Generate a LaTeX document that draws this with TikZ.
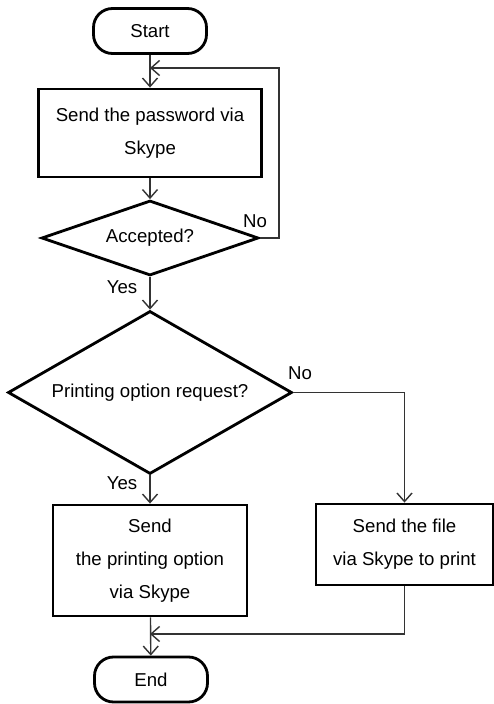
\documentclass[tikz,border=0pt]{standalone}
\usepackage{fontspec}
\setmainfont{Liberation Sans}
\usetikzlibrary{shapes.geometric,arrows.meta}
\tikzset{
  terminal/.style={draw, line width=1.6pt, rounded corners=0.38cm, minimum width=2.26cm, minimum height=0.9cm},
  process/.style={draw, line width=1.6pt, align=center, inner sep=0pt},
  decision/.style={draw, diamond, line width=1.6pt, inner sep=0pt, aspect=2},
  conn/.style={line width=0.8pt, black!80, -{Straight Barb[length=1.7mm,width=3mm]}},
  lbl/.style={inner sep=0pt},
}
\begin{document}
\begin{tikzpicture}[font=\fontsize{10.6}{18.8}\selectfont]
\useasboundingbox[fill=white] (0,0) rectangle (9.88,14.08);
\node[terminal] (start) at (3.000, 13.460) {Start};
\node[process, minimum width=4.46cm, minimum height=1.76cm] (pass) at (3.000, 11.420) {Send the password via\\Skype};
\node[decision, minimum width=4.34cm, minimum height=1.50cm] (acc) at (3.000, 9.320) {Accepted?};
\node[decision, minimum width=5.68cm, minimum height=3.26cm] (req) at (3.000, 6.230) {Printing option request?};
\node[process, minimum width=3.88cm, minimum height=2.22cm] (opt) at (3.000, 2.870) {Send\\the printing option\\via Skype};
\node[process, minimum width=3.54cm, minimum height=1.62cm] (file) at (8.090, 3.190) {Send the file\\via Skype to print};
\node[terminal] (end) at (3.020, 0.490) {End};
\coordinate (loopA) at (5.580, 12.720);
\coordinate (loopB) at (3.000, 12.720);
\coordinate (join) at (3.000, 1.400);
\draw[conn] (start) -- (pass);
\draw[conn] (pass) -- (acc);
\draw[conn] (acc) -- (req);
\draw[conn] (req) -- (opt);
\draw[conn] (opt) -- (end);
\draw[conn] (acc.east) -| (loopA) -- (loopB);
\draw[conn] (req.east) -| (file.north);
\draw[conn] (file.south) |- (join);
\node[lbl] (accno) at (5.100, 9.660) {No};
\node[lbl] (accyes) at (2.440, 8.340) {Yes};
\node[lbl] (reqno) at (6.000, 6.620) {No};
\node[lbl] (reqyes) at (2.440, 4.420) {Yes};
\end{tikzpicture}
\end{document}
